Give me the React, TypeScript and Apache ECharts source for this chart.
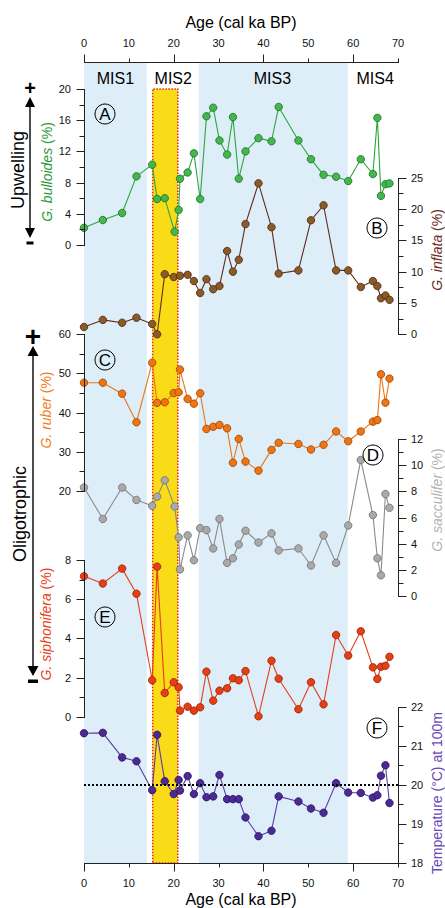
import React, { useEffect, useRef } from "react";
import * as echarts from "echarts";

// ---- data ----
const agesA = [0, 4.2, 8.5, 11.7, 15.2, 16.3, 18.0, 20.2, 21.1, 21.4, 23.1, 24.5, 25.9, 27.3, 28.8, 30.2, 31.9, 33.2, 34.5, 36.0, 38.9, 41.8, 43.4, 47.8, 50.6, 53.4, 56.2, 58.9, 61.7, 64.4, 65.4, 66.2, 67.2, 68.1];
const bulloides = [2.2, 3.2, 4.1, 8.8, 10.3, 5.9, 6.0, 1.7, 4.5, 8.5, 9.3, 11.75, 5.9, 16.5, 17.6, 13.4, 11.6, 16.4, 8.5, 12.0, 13.7, 13.3, 17.7, 13.4, 11.0, 9.0, 8.75, 8.2, 11.0, 9.1, 16.3, 6.3, 7.8, 7.9];

const agesB = [0, 4.2, 8.5, 11.7, 15.2, 16.3, 18.0, 20.0, 21.4, 23.1, 24.5, 25.9, 27.3, 28.8, 30.2, 31.9, 33.2, 34.5, 36.0, 38.9, 41.8, 43.4, 47.8, 50.6, 53.4, 56.2, 58.9, 61.7, 64.4, 65.4, 66.2, 67.2, 68.1];
const inflata = [1.17, 2.3, 1.85, 2.65, 1.65, 0, 9.6, 9.15, 9.35, 9.5, 8.5, 6.6, 8.8, 7.2, 7.7, 13.3, 10.0, 11.9, 17.6, 24.1, 17.1, 9.7, 10.2, 18.2, 20.6, 10.2, 10.2, 7.55, 8.5, 7.7, 5.75, 6.2, 5.5];

const agesC = [0, 4.2, 8.5, 11.7, 15.2, 16.3, 18.0, 20.0, 21.1, 21.4, 23.1, 24.5, 25.9, 27.3, 28.8, 30.2, 31.9, 33.2, 34.5, 36.0, 38.9, 41.8, 43.4, 47.8, 50.6, 53.4, 56.2, 58.9, 61.7, 64.4, 65.4, 66.2, 67.2, 68.1];
const ruber = [47.65, 47.65, 44.85, 37.55, 52.75, 42.5, 42.65, 45.0, 45.2, 51.0, 43.5, 42.3, 44.95, 35.85, 36.4, 36.85, 36.0, 27.2, 33.3, 27.5, 25.2, 30.5, 32.3, 32.0, 30.6, 31.8, 35.2, 32.7, 35.2, 37.7, 38.1, 49.8, 42.55, 48.7];

const agesD = [0, 4.2, 8.5, 11.7, 15.2, 16.3, 18.0, 20.2, 21.1, 21.4, 23.1, 24.5, 25.9, 27.3, 28.8, 30.2, 31.9, 33.2, 34.5, 36.0, 38.9, 41.8, 43.4, 47.8, 50.6, 53.4, 56.2, 58.9, 61.7, 64.4, 65.4, 66.2, 67.2, 68.1];
const sacculifer = [8.3, 5.9, 8.3, 7.35, 6.9, 7.6, 8.85, 6.85, 4.5, 2.05, 4.65, 2.75, 5.2, 5.05, 3.65, 5.9, 2.55, 2.9, 3.95, 5.0, 4.1, 4.8, 3.5, 3.65, 2.35, 4.65, 2.55, 5.4, 10.4, 6.2, 2.9, 1.6, 7.8, 6.75];

const agesE = [0, 4.2, 8.5, 11.7, 15.2, 16.3, 18.0, 20.0, 21.1, 21.4, 23.1, 24.5, 25.9, 27.3, 28.8, 30.2, 31.9, 33.2, 34.5, 36.0, 38.9, 41.8, 43.4, 47.8, 50.6, 53.4, 56.2, 58.9, 61.7, 64.4, 65.4, 66.2, 67.2, 68.1];
const siphonifera = [7.17, 6.8, 7.56, 6.28, 1.86, 7.66, 1.21, 1.76, 1.5, 0.31, 0.51, 0.31, 0.48, 2.3, 0.82, 1.33, 1.45, 1.96, 1.86, 2.33, 0.02, 2.86, 1.94, 0.38, 1.76, 0.63, 4.17, 3.12, 4.36, 2.52, 1.93, 2.55, 2.6, 3.06];

const agesF = [0, 4.2, 8.5, 11.7, 15.2, 16.3, 18.0, 20.0, 21.1, 21.4, 23.1, 24.5, 25.9, 27.3, 28.8, 30.2, 31.9, 33.2, 34.5, 36.0, 38.9, 41.8, 43.4, 47.8, 50.6, 53.4, 56.2, 58.9, 61.7, 64.4, 65.4, 66.2, 67.2, 68.1];
const temperature = [21.32, 21.33, 20.7, 20.6, 19.86, 21.28, 20.09, 19.76, 20.12, 19.85, 20.22, 19.76, 20.04, 19.68, 19.7, 20.25, 19.63, 19.63, 19.63, 19.16, 18.68, 18.82, 19.7, 19.57, 19.39, 19.28, 20.04, 19.8, 19.79, 19.67, 19.73, 20.23, 20.5, 19.53];

const misBands = [
  { name: "MIS1", from: 0, to: 14.0 },
  { name: "MIS3", from: 25.6, to: 58.8 },
];
const misLabels = [
  { name: "MIS1", age: 7 },
  { name: "MIS2", age: 19.9 },
  { name: "MIS3", age: 42 },
  { name: "MIS4", age: 64.9 },
];
const lgmBand = { from: 15.3, to: 20.9 };
const referenceTemp = 20;
const ageTicks = [0, 10, 20, 30, 40, 50, 60, 70];

const FONT = "Liberation Sans, Arial, sans-serif";
const X0 = 84;
const X1 = 398;
const xPx = (a: number) => X0 + ((X1 - X0) * a) / 70;

const zip = (a: number[], v: number[]) => a.map((x, i) => [x, v[i]]);

const gridBoxes = [
  { top: 62, height: 801 }, // 0 background + age axes
  { top: 89, height: 156 }, // 1 A
  { top: 177.7, height: 156.6 }, // 2 B
  { top: 334.3, height: 156.7 }, // 3 C
  { top: 439, height: 157.3 }, // 4 D
  { top: 560, height: 156.7 }, // 5 E
  { top: 706.7, height: 156 }, // 6 F
];

const yAxisSpecs = [
  { g: 1, pos: "left", min: 0, max: 20, interval: 4 },
  { g: 2, pos: "right", min: 0, max: 25, interval: 5 },
  { g: 3, pos: "left", min: 20, max: 60, interval: 10 },
  { g: 4, pos: "right", min: 0, max: 12, interval: 2 },
  { g: 5, pos: "left", min: 0, max: 8, interval: 2 },
  { g: 6, pos: "right", min: 18, max: 22, interval: 1 },
];

export default function App() {
  const ref = useRef<HTMLDivElement>(null);
  useEffect(() => {
    if (!ref.current) return;
    const chart = echarts.init(ref.current, undefined, { renderer: "svg" });

    const grids = gridBoxes.map((g) => ({ left: X0, width: X1 - X0, top: g.top, height: g.height }));
    const lbl = () => ({ fontSize: 11, color: "#111", fontFamily: FONT });

    const xAx = (pos: string) => ({
      gridIndex: 0, type: "value", position: pos, min: 0, max: 70, interval: 10,
      axisLine: { show: false, onZero: false },
      axisTick: { show: false },
      axisLabel: { ...lbl(), margin: 14 },
      splitLine: { show: false },
    });

    const xAxes: any[] = [xAx("top"), xAx("bottom")];
    for (let g = 1; g <= 6; g++) {
      xAxes.push({ gridIndex: g, type: "value", min: 0, max: 70, show: false });
    }
    // series in grid g uses xAxisIndex g+1
    const yAxes: any[] = [
      { gridIndex: 0, type: "value", min: 0, max: 1, show: false },
      ...yAxisSpecs.map((s) => ({
        gridIndex: s.g, type: "value", position: s.pos, min: s.min, max: s.max, interval: s.interval,
        axisLine: { show: false, onZero: false },
        axisTick: { show: false },
        axisLabel: { ...lbl(), margin: 13 },
        splitLine: { show: false },
      })),
    ];

    const yellowTop = 1 - (89 - 62) / 801;

    const mk = (g: number, ages: number[], vals: number[], fill: string, line: string, border: string, extra: any = {}) => ({
      type: "line", xAxisIndex: g + 1, yAxisIndex: g, data: zip(ages, vals),
      symbol: "circle", symbolSize: 7.5, clip: false,
      lineStyle: { color: line, width: 1.1 },
      itemStyle: { color: fill, borderColor: border, borderWidth: 0.8 },
      ...extra,
    });

    const series: any[] = [
      {
        type: "line", xAxisIndex: 0, yAxisIndex: 0, data: [[0, -1]], symbol: "none",
        lineStyle: { opacity: 0 }, silent: true,
        markArea: {
          silent: true,
          data: [
            ...misBands.map((b) => [
              { xAxis: b.from, yAxis: 0, itemStyle: { color: "#ddeef9" } },
              { xAxis: b.to, yAxis: 1 },
            ]),
            [
              { xAxis: lgmBand.from, yAxis: 0, itemStyle: { color: "#f9dc17", borderColor: "#e5231b", borderWidth: 1.5, borderType: "dotted" } },
              { xAxis: lgmBand.to, yAxis: yellowTop },
            ],
          ],
        },
      },
      mk(1, agesA, bulloides, "#44b74c", "#2aa83c", "#1f6e2a"),
      mk(2, agesB, inflata, "#8c5a28", "#5e2c1e", "#4a2a10"),
      mk(3, agesC, ruber, "#ee7414", "#ee7414", "#9a4400"),
      mk(4, agesD, sacculifer, "#a9a9a9", "#8a8a8a", "#707070"),
      mk(5, agesE, siphonifera, "#e43f16", "#e43f16", "#9a2000"),
      mk(6, agesF, temperature, "#4b2b93", "#5b3ca8", "#2a1060", {
        markLine: {
          silent: true, symbol: "none", label: { show: false },
          lineStyle: { type: "dotted", color: "#000", width: 2 },
          data: [{ yAxis: referenceTemp }],
        },
      }),
    ];

    chart.setOption({
      animation: false,
      grid: grids,
      xAxis: xAxes,
      yAxis: yAxes,
      series,
    });

    // ---- axis lines and ticks, positioned through the chart's own scales ----
    const toPx = (xi: number, yi: number, x: number, y: number, fb: number[]) => {
      try {
        const r: any = chart.convertToPixel({ xAxisIndex: xi, yAxisIndex: yi } as any, [x, y]);
        if (r && isFinite(r[0]) && isFinite(r[1])) return r as number[];
      } catch (e) {
        /* fall back */
      }
      return fb;
    };
    const crisp = (v: number) => Math.round(v) + 0.5;
    const seg = (x1: number, y1: number, x2: number, y2: number) => ({
      type: "line", z: 20, silent: true,
      shape: { x1, y1, x2, y2 },
      style: { stroke: "#222", lineWidth: 1 },
    });
    const axisGfx: any[] = [];

    // age axes (top and bottom)
    const ageY = (v: number) => {
      const b = gridBoxes[0];
      return toPx(0, 0, 0, v, [X0, b.top + b.height * (1 - v)])[1];
    };
    const ageX = (a: number) => toPx(0, 0, a, 0, [xPx(a), 0])[0];
    const yTop = crisp(ageY(1));
    const yBot = crisp(ageY(0));
    axisGfx.push(seg(crisp(ageX(0)) - 0.5, yTop, crisp(ageX(70)) + 0.5, yTop));
    axisGfx.push(seg(crisp(ageX(0)) - 0.5, yBot, crisp(ageX(70)) + 0.5, yBot));
    ageTicks.forEach((a, k) => {
      const x = crisp(ageX(a));
      const len = k % 2 === 0 ? 8 : 4;
      axisGfx.push(seg(x, yTop, x, yTop - len));
      axisGfx.push(seg(x, yBot, x, yBot + len));
    });

    // value axes
    yAxisSpecs.forEach((s) => {
      const b = gridBoxes[s.g];
      const xEdge = s.pos === "left" ? 0 : 70;
      const dir = s.pos === "left" ? -1 : 1;
      const yOf = (v: number) =>
        toPx(s.g + 1, s.g, xEdge, v, [xPx(xEdge), b.top + (b.height * (s.max - v)) / (s.max - s.min)]);
      const p0 = yOf(s.min);
      const p1 = yOf(s.max);
      const x = crisp(p0[0]);
      axisGfx.push(seg(x, crisp(p0[1]) + 0.5, x, crisp(p1[1]) - 0.5));
      const half = s.interval / 2;
      const n = Math.round((s.max - s.min) / half);
      for (let k = 0; k <= n; k++) {
        const v = s.min + k * half;
        const y = crisp(yOf(v)[1]);
        const len = k % 2 === 0 ? 8 : 5;
        axisGfx.push(seg(x, y, x + dir * len, y));
      }
    });

    // ---- annotations ----
    const txt = (x: number, y: number, text: string, fontSize: number, fill = "#000", extra: any = {}, rotation = 0) => ({
      type: "text", x, y, z: 10, rotation,
      style: { text, fontSize, fill, fontFamily: FONT, align: "center", verticalAlign: "middle", ...extra },
    });
    const vtxt = (x: number, y: number, rich: string, fontSize: number, fill: string) => ({
      type: "text", x, y, rotation: Math.PI / 2, z: 10,
      style: {
        text: rich, fontSize, fill, fontFamily: FONT, align: "center", verticalAlign: "middle",
        rich: {
          i: { fontStyle: "italic", fontSize, fill, fontFamily: FONT },
          n: { fontSize, fill, fontFamily: FONT },
        },
      },
    });
    const circled = (x: number, y: number, letter: string) => [
      { type: "circle", shape: { cx: x, cy: y, r: 10 }, z: 10, style: { fill: "none", stroke: "#000", lineWidth: 1 } },
      txt(x, y + 0.5, letter, 17),
    ];
    const arrow = (x: number, y1: number, y2: number, w: number, h: number) => [
      { type: "line", z: 10, shape: { x1: x, y1: y1 + h - 1, x2: x, y2: y2 - h + 1 }, style: { stroke: "#000", lineWidth: 1.4 } },
      { type: "polygon", z: 10, shape: { points: [[x, y1], [x - w / 2, y1 + h], [x + w / 2, y1 + h]] }, style: { fill: "#000" } },
      { type: "polygon", z: 10, shape: { points: [[x, y2], [x - w / 2, y2 - h], [x + w / 2, y2 - h]] }, style: { fill: "#000" } },
    ];

    const graphic: any[] = [
      txt(241, 22, "Age (cal ka BP)", 16),
      txt(241, 899, "Age (cal ka BP)", 16),
      ...misLabels.map((m) => txt(xPx(m.age), 78, m.name, 16)),
      ...circled(105, 114, "A"),
      ...circled(377, 228, "B"),
      ...circled(105, 360, "C"),
      ...circled(373, 455, "D"),
      ...circled(105, 617, "E"),
      ...circled(377, 728, "F"),
      // Upwelling
      txt(18, 170, "Upwelling", 18, "#000", {}, Math.PI / 2),
      ...arrow(30, 97, 238, 10, 10),
      txt(30, 88, "+", 20, "#000", { fontWeight: "bold" }),
      { type: "rect", z: 10, shape: { x: 26.5, y: 241.5, width: 7, height: 3 }, style: { fill: "#000" } },
      // Oligotrophic
      txt(20, 514, "Oligotrophic", 18, "#000", {}, Math.PI / 2),
      ...arrow(33, 346, 676, 11, 10),
      txt(33, 336, "+", 28, "#000", { fontWeight: "bold" }),
      { type: "rect", z: 10, shape: { x: 28, y: 679.5, width: 10, height: 3.5 }, style: { fill: "#000" } },
      // axis names
      vtxt(47, 172, "{i|G. bulloides} {n|(%)}", 14, "#2a9a3c"),
      vtxt(46, 410, "{i|G. ruber} {n|(%)}", 14, "#f07c1e"),
      vtxt(46, 624, "{i|G. siphonifera} {n|(%)}", 14, "#e8421a"),
      vtxt(437, 250, "{i|G. inflata} {n|(%)}", 14, "#6e2a22"),
      vtxt(437, 500, "{i|G. sacculifer} {n|(%)}", 14, "#b3b3b3"),
      vtxt(437, 793, "{n|Temperature (°C) at 100m}", 14, "#6a48b8"),
      ...axisGfx,
    ];

    chart.setOption({ graphic });
    return () => chart.dispose();
  }, []);

  return (
    <div
      ref={ref}
      style={{ position: "fixed", left: 0, top: 0, width: 445, height: 908, background: "#fff" }}
    />
  );
}
